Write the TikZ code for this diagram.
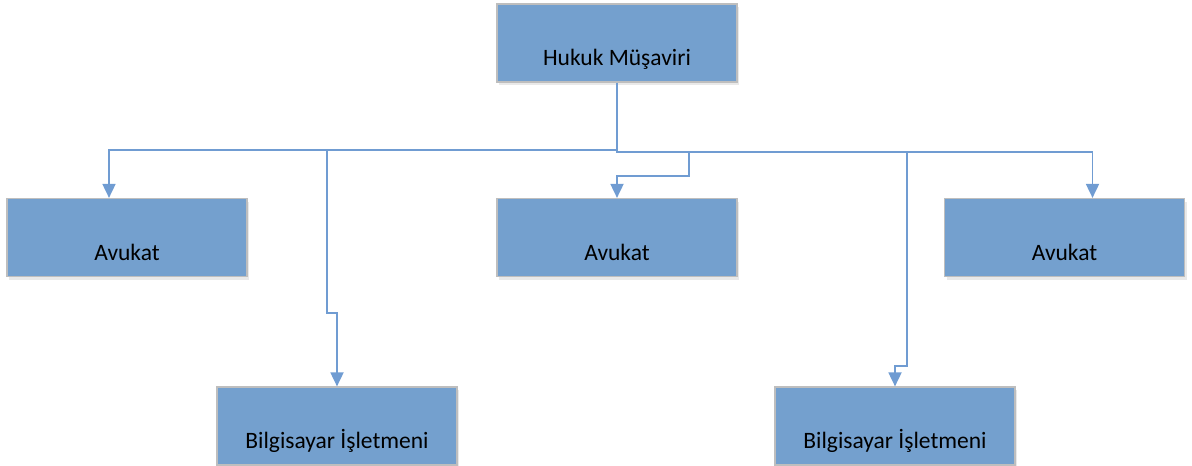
\documentclass[tikz,border=0pt]{standalone}
\usepackage{fontspec}
\setmainfont{Carlito}
\usetikzlibrary{arrows.meta,shadows}
\definecolor{boxfill}{RGB}{116,160,206}
\definecolor{boxline}{RGB}{190,190,190}
\definecolor{connblue}{RGB}{112,156,210}
\begin{document}
\begin{tikzpicture}[x=1pt,y=-1pt,
  orgbox/.style={rectangle, draw=boxline, line width=1.2pt, fill=boxfill,
    minimum width=240pt, minimum height=78pt, inner sep=2pt,
    text height=45pt, text depth=0pt,
    font=\fontsize{23.5}{28}\selectfont,
    drop shadow={shadow xshift=2pt, shadow yshift=-3pt, fill=black!25, opacity=0.35}},
  conn/.style={draw=connblue, line width=1.8pt},
  arr/.style={conn, -{Triangle[width=13pt,length=14pt]}}]
\useasboundingbox (0,0) rectangle (1192,466);
\node[orgbox] (top) at (617,43) {Hukuk Müşaviri};
\node[orgbox] (a1) at (127,237.5) {Avukat};
\node[orgbox] (a2) at (617,237.5) {Avukat};
\node[orgbox] (a3) at (1064.5,237.5) {Avukat};
\node[orgbox] (b1) at (337,426) {Bilgisayar İşletmeni};
\node[orgbox] (b2) at (895,426) {Bilgisayar İşletmeni};
% connectors
\draw[arr] (top.south) -- (top.south |- 0,152) -| ([xshift=28pt]a3.north);
\draw[arr] (top.south |- 0,150) -| ([xshift=-18pt]a1.north);
\draw[arr] (327,150) -- (327,313) -- (b1.north |- 0,313) -- (b1.north);
\draw[arr] (689,152) -- (689,176) -| (a2.north);
\draw[arr] (907,152) -- (907,366) -| (b2.north);
\end{tikzpicture}
\end{document}
